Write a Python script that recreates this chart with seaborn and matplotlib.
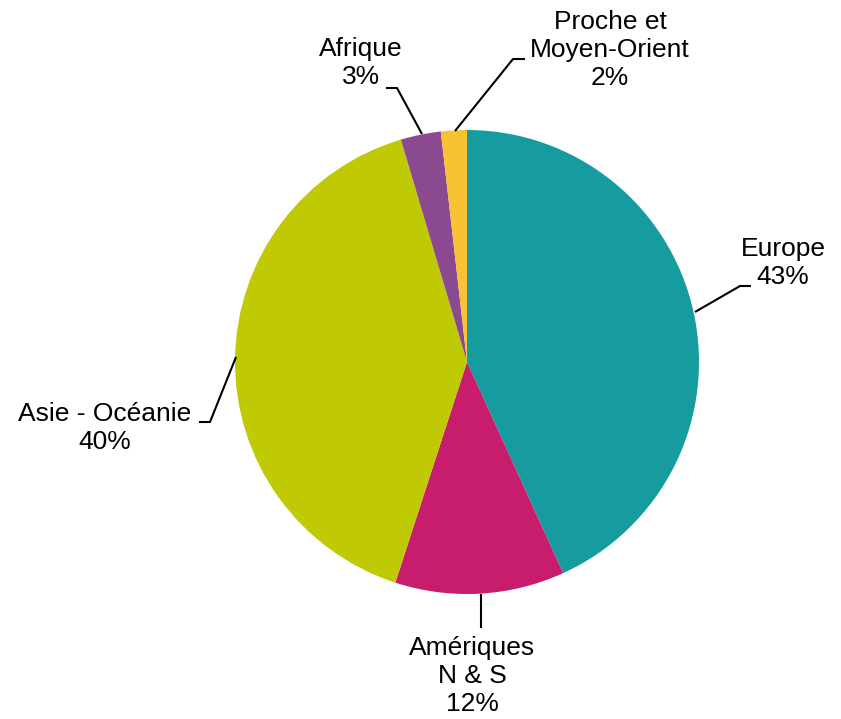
import matplotlib
matplotlib.use('Agg')
import matplotlib.pyplot as plt
import seaborn as sns

# Data
regions = ['Europe', 'Amériques\nN & S', 'Asie - Océanie', 'Afrique', 'Proche et\nMoyen-Orient']
shares = [43.2, 11.8, 40.4, 2.8, 1.8]
colors = ['#169C9E', '#C81D6C', '#BFCA05', '#8B4A90', '#F8C232']

sns.set_theme(style='white')
plt.rcParams['font.family'] = ['Liberation Sans', 'DejaVu Sans']

W, H = 841, 719
fig = plt.figure(figsize=(W / 100, H / 100), dpi=100)
ax = fig.add_axes([0, 0, 1, 1])

# pie placed in pixel-like coordinates (y measured from the top of the image)
cx, cy, r = 467, 362, 232
ax.pie(shares, colors=colors, startangle=90, counterclock=False,
       center=(cx, H - cy), radius=r, wedgeprops=dict(linewidth=0))

ax.set_xlim(0, W)
ax.set_ylim(0, H)
ax.set_aspect('equal')
ax.axis('off')

# label layout: text centre, leader line points (image coords, y from top)
layout = {
    'Europe': dict(text=(783, 263), line=[(695, 312), (740, 286), (751, 286)]),
    'Amériques\nN & S': dict(text=(472, 676), line=[(481, 594), (481, 628)]),
    'Asie - Océanie': dict(text=(105, 428), line=[(236, 357), (210, 422), (199, 422)]),
    'Afrique': dict(text=(361, 63), line=[(422, 134), (397, 88), (386, 88)]),
    'Proche et\nMoyen-Orient': dict(text=(610, 50), line=[(455, 131), (513, 59), (525, 59)]),
}

for name, val in zip(regions, shares):
    lay = layout[name]
    xs = [p[0] for p in lay['line']]
    ys = [H - p[1] for p in lay['line']]
    ax.plot(xs, ys, color='black', lw=1.5, solid_capstyle='butt')
    tx, ty = lay['text']
    ax.text(tx, H - ty, f'{name}\n{round(val):d}%', ha='center', va='center',
            fontsize=19, color='black', linespacing=1.2)

fig.savefig('out.png', dpi=100)
